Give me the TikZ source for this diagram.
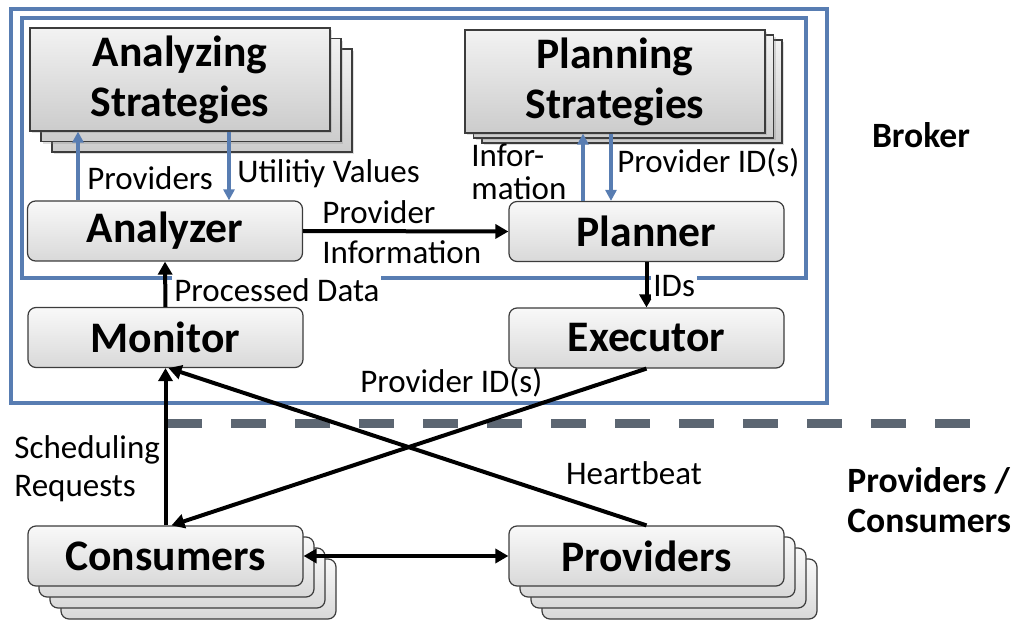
\documentclass[tikz,border=0pt]{standalone}
\usepackage{fontspec}
\setmainfont{Carlito}
\usetikzlibrary{arrows.meta,shadows}
\definecolor{frameblue}{RGB}{88,125,178}
\definecolor{dashgray}{RGB}{92,102,114}
\definecolor{boxedge}{RGB}{60,60,60}

\begin{document}
\begin{tikzpicture}[x=0.5pt,y=-0.5pt,
  unit/.style={draw=boxedge, line width=0.6pt, rounded corners=4pt,
    top color=gray!5, bottom color=gray!30,
    minimum width=137.5pt, minimum height=30pt, inner sep=0pt,
    font=\fontsize{21.8}{24}\selectfont\bfseries},
  strat/.style={draw=boxedge, line width=0.6pt,
    top color=gray!10, bottom color=gray!40,
    minimum width=150pt, minimum height=51.5pt, inner sep=0pt, align=center,
    drop shadow={opacity=0.25, shadow xshift=1.2pt, shadow yshift=-1.2pt},
    font=\fontsize{21.8}{25}\selectfont\bfseries},
  lbl/.style={font=\fontsize{16.5}{16.8}\selectfont, inner sep=1pt, align=left},
  heading/.style={font=\fontsize{17.8}{20}\selectfont\bfseries, inner sep=0pt, align=left},
  blk/.style={line width=2pt, draw=black, -{Triangle[length=6.5pt,width=7pt]}},
  blu/.style={line width=1.6pt, draw=frameblue, -{Triangle[length=5.5pt,width=5.5pt]}},
  frame/.style={draw=frameblue, line width=2pt}
]
\useasboundingbox (0,0) rectangle (1019,626);

% broker frames
\draw[frame] (11,9) rectangle (827,403);
\draw[frame] (22,18) rectangle (806,278);

% boundary between broker and the outside world
\draw[dashgray, line width=4.5pt, dash pattern=on 17.5pt off 14.5pt] (167,423) -- (975,423);

% strategy stacks
\node[strat] (as3) at (202,100.5) {};
\node[strat] (as2) at (191,90) {};
\node[strat] (astr) at (180,79.5) {Analyzing\\Strategies};

\node[strat] (ps3) at (632,91.5) {};
\node[strat] (ps2) at (623.5,86.5) {};
\node[strat] (pstr) at (615,81.5) {Planning\\Strategies};

% MAPE components
\node[unit] (analyzer) at (165,231) {Analyzer};
\node[unit] (planner)  at (646.5,231.5) {Planner};
\node[unit] (monitor)  at (165.5,337.5) {Monitor};
\node[unit] (executor) at (646.5,338) {Executor};

% consumer and provider stacks
\node[unit] (cons3) at (198.5,589) {};
\node[unit] (cons2) at (187.5,578) {};
\node[unit] (cons1) at (176.5,567) {};
\node[unit] (consumers) at (165.5,556) {Consumers};

\node[unit] (prov3) at (679.5,589) {};
\node[unit] (prov2) at (668.5,578) {};
\node[unit] (prov1) at (657.5,567) {};
\node[unit] (providers) at (646.5,556) {Providers};

% strategy connectors
\coordinate (xa1) at (78,0);
\coordinate (xa2) at (229,0);
\coordinate (xp1) at (583,0);
\coordinate (xp2) at (611,0);
\draw[blu] (analyzer.north -| xa1) -- (astr.south -| xa1);
\draw[blu] (astr.south -| xa2) -- (analyzer.north -| xa2);
\draw[blu] (planner.north -| xp1) -- (pstr.south -| xp1);
\draw[blu] (pstr.south -| xp2) -- (planner.north -| xp2);

\node[lbl, anchor=west] (lprov) at (85,178) {Providers};
\node[lbl, anchor=west] (lutil) at (235,174) {Utilitiy Values};
\node[lbl, anchor=west] (linfo) at (469,172) {Infor-\\mation};
\node[lbl, anchor=west] (lpid) at (615,163) {Provider ID(s)};

% data flow
\draw[blk] (analyzer.east) -- (planner.west);
\node[lbl, anchor=west] (lpi1) at (320,212) {Provider};
\node[lbl, anchor=west] (lpi2) at (320,252) {Information};

\draw[blk] (monitor.north) -- (analyzer.south);
\node[lbl, anchor=west, fill=white] (lproc) at (172,290) {Processed Data};

\draw[blk] (planner.south) -- (executor.north);
\node[lbl, anchor=west, fill=white] (lids) at (651,286) {IDs};

\draw[blk] (consumers.north) -- (monitor.south);
\draw[blk] (executor.south) -- ([xshift=3pt]consumers.north);
\draw[blk] (providers.north) -- ([xshift=1.5pt]monitor.south);
\draw[line width=2pt, {Triangle[length=6.5pt,width=7pt]}-{Triangle[length=6.5pt,width=7pt]}] (consumers.east) -- (providers.west);

\node[lbl, anchor=west] (lpid2) at (358,383) {Provider ID(s)};
\node[lbl, anchor=west, font=\fontsize{16.5}{19}\selectfont] (lsched) at (12,469) {Scheduling\\Requests};
\node[lbl] (lheart) at (634,473) {Heartbeat};

% realm captions
\node[heading] (broker) at (921,135) {Broker};
\node[heading, anchor=west] (pc) at (847,500) {Providers /\\Consumers};
\end{tikzpicture}
\end{document}
